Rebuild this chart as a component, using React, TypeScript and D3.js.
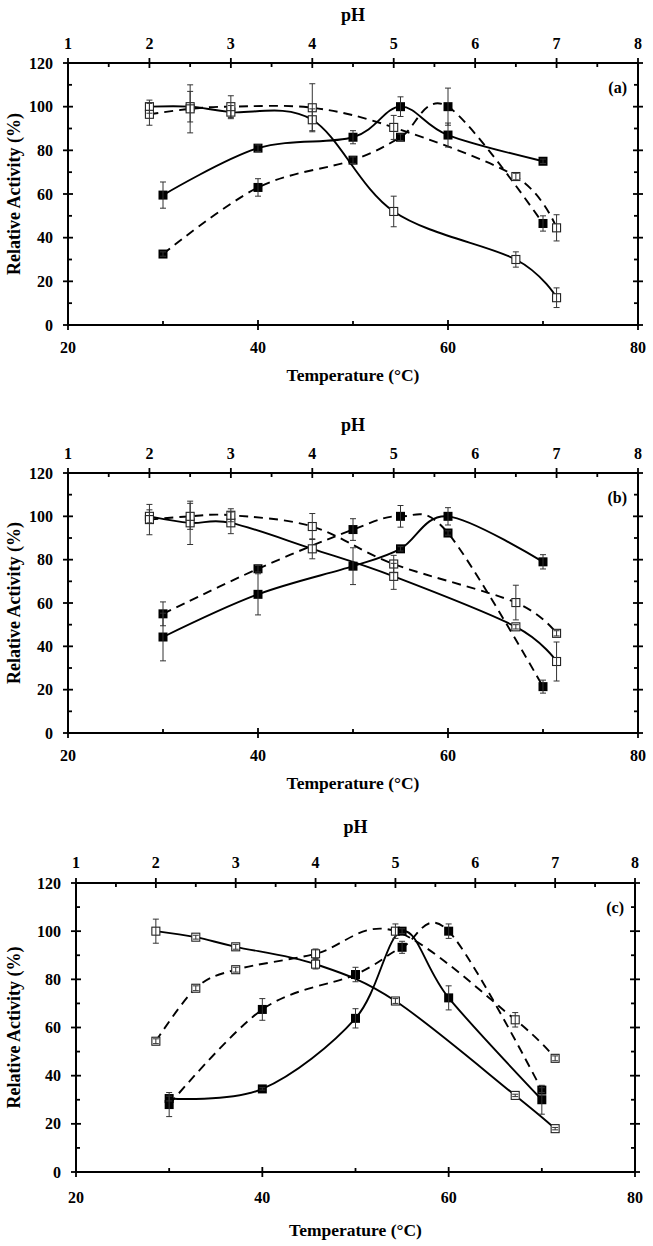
import React from 'react';
import * as d3 from 'd3';

// ---------- shared axis values ----------
const phValues = [2, 2.5, 3, 4, 5, 6.5, 7];
const tempValues = [30, 40, 50, 55, 60, 70];
const yTicks = [0, 20, 40, 60, 80, 100, 120];
const yMinorTicks = [10, 30, 50, 70, 90, 110];
const tempTicks = [20, 40, 60, 80];
const tempMinorTicks = [30, 50, 70];
const phTicks = [1, 2, 3, 4, 5, 6, 7, 8];
const phMinorTicks = [1.5, 2.5, 3.5, 4.5, 5.5, 6.5, 7.5];

// ---------- panel (a) ----------
const aPhSolid = [100, 100, 97.5, 94, 52, 30, 12.5];
const aPhSolidErr = [3, 7, 3, 5, 7, 3.5, 4.5];
const aPhDashed = [96.5, 99, 100, 99.5, 90.5, 68, 44.5];
const aPhDashedErr = [5, 11, 5, 11, 5.5, 1.5, 6];
const aTempSolid = [59.5, 81, 86, 100, 87, 75];
const aTempSolidErr = [6, 1.5, 3, 4.5, 5.5, 1];
const aTempDashed = [32.5, 63, 75.5, 86, 100, 46.5];
const aTempDashedErr = [1, 4, 1.5, 1.5, 8.5, 3.5];

// ---------- panel (b) ----------
const bPhSolid = [100, 97, 97, 85, 72.3, 49, 33];
const bPhSolidErr = [3, 10, 5, 4.6, 6, 1, 9];
const bPhDashed = [98.5, 100, 100.5, 95.3, 78, 60.2, 46];
const bPhDashedErr = [7, 6, 3, 6, 4, 8, 1.2];
const bTempSolid = [44.3, 64, 77, 85, 100, 79];
const bTempSolidErr = [11, 9.5, 8.5, 1, 4, 3.3];
const bTempDashed = [55, 75.8, 93.9, 100, 92.3, 21.4];
const bTempDashedErr = [5.5, 1.5, 5, 5, 1, 3];

// ---------- panel (c) ----------
const cPhSolid = [100, 97.5, 93.5, 86.3, 71, 31.8, 18];
const cPhSolidErr = [5, 0.8, 1, 2, 1, 0.5, 0.5];
const cPhDashed = [54.3, 76.3, 84, 90.6, 100, 63.2, 47.2];
const cPhDashedErr = [1, 1, 1, 2, 3, 3, 1];
const cTempSolid = [30.5, 34.5, 63.8, 100, 72.3, 30];
const cTempSolidErr = [1, 0.5, 4, 1, 5, 6];
const cTempDashed = [28, 67.5, 82, 93.3, 100, 34];
const cTempDashedErr = [5, 4.5, 3, 2.5, 3, 1];

const panelLabels = ['(a)', '(b)', '(c)'];

type Series = { kind: 'ph' | 'temp'; values: number[]; errors: number[]; dashed: boolean };

const panelSeries: Series[][] = [
  [
    { kind: 'ph', values: aPhSolid, errors: aPhSolidErr, dashed: false },
    { kind: 'ph', values: aPhDashed, errors: aPhDashedErr, dashed: true },
    { kind: 'temp', values: aTempSolid, errors: aTempSolidErr, dashed: false },
    { kind: 'temp', values: aTempDashed, errors: aTempDashedErr, dashed: true },
  ],
  [
    { kind: 'ph', values: bPhSolid, errors: bPhSolidErr, dashed: false },
    { kind: 'ph', values: bPhDashed, errors: bPhDashedErr, dashed: true },
    { kind: 'temp', values: bTempSolid, errors: bTempSolidErr, dashed: false },
    { kind: 'temp', values: bTempDashed, errors: bTempDashedErr, dashed: true },
  ],
  [
    { kind: 'ph', values: cPhSolid, errors: cPhSolidErr, dashed: false },
    { kind: 'ph', values: cPhDashed, errors: cPhDashedErr, dashed: true },
    { kind: 'temp', values: cTempSolid, errors: cTempSolidErr, dashed: false },
    { kind: 'temp', values: cTempDashed, errors: cTempDashedErr, dashed: true },
  ],
];

// layout
const layouts = [
  { x0: 68, x1: 638, yTop: 63, yBot: 325, phY: 21, topLblY: 49, botLblY: 353, tempY: 381 },
  { x0: 68, x1: 638, yTop: 473, yBot: 733, phY: 431, topLblY: 459, botLblY: 761, tempY: 789 },
  { x0: 76, x1: 635, yTop: 883, yBot: 1172, phY: 833, topLblY: 868, botLblY: 1203, tempY: 1236 },
];

const FONT = '"Liberation Serif", "Times New Roman", serif';

function Panel({ idx }: { idx: number }) {
  const L = layouts[idx];
  const x = d3.scaleLinear().domain([20, 80]).range([L.x0, L.x1]);
  const xp = d3.scaleLinear().domain([1, 8]).range([L.x0, L.x1]);
  const y = d3.scaleLinear().domain([0, 120]).range([L.yBot, L.yTop]);
  const line = d3
    .line<[number, number]>()
    .x((d) => d[0])
    .y((d) => d[1])
    .curve(d3.curveCardinal.tension(0));
  const series = panelSeries[idx];
  const pts = (s: Series) =>
    s.values.map((v, i) => {
      const px = s.kind === 'ph' ? xp(phValues[i]) : x(tempValues[i]);
      return { px, py: y(v), v, e: s.errors[i] };
    });
  const midY = (L.yTop + L.yBot) / 2;
  const midX = (L.x0 + L.x1) / 2;
  const axisW = 2;
  return (
    <g>
      {/* lines */}
      {series.map((s, si) => (
        <path
          key={'l' + si}
          d={line(pts(s).map((p) => [p.px, p.py] as [number, number])) || ''}
          fill="none"
          stroke="#000"
          strokeWidth={1.9}
          strokeDasharray={s.dashed ? '9,6' : undefined}
        />
      ))}
      {/* markers */}
      {series.map((s, si) =>
        pts(s).map((p, i) =>
          s.kind === 'temp' ? (
            <rect key={'m' + si + '-' + i} x={p.px - 4.5} y={p.py - 4.5} width={9} height={9} fill="#000" />
          ) : (
            <rect
              key={'m' + si + '-' + i}
              x={p.px - 4}
              y={p.py - 4}
              width={8}
              height={8}
              fill="#fff"
              stroke="#222"
              strokeWidth={1.1}
            />
          )
        )
      )}
      {/* error bars */}
      {series.map((s, si) =>
        pts(s).map((p, i) => {
          const t = y(p.v + p.e);
          const b = y(p.v - p.e);
          return (
            <g key={'e' + si + '-' + i} stroke="#333" strokeWidth={1}>
              <line x1={p.px} x2={p.px} y1={t} y2={b} />
              <line x1={p.px - 3} x2={p.px + 3} y1={t} y2={t} />
              <line x1={p.px - 3} x2={p.px + 3} y1={b} y2={b} />
            </g>
          );
        })
      )}
      {/* frame */}
      <g stroke="#000" strokeWidth={axisW}>
        <line x1={L.x0} x2={L.x1} y1={L.yTop} y2={L.yTop} />
        <line x1={L.x0} x2={L.x1} y1={L.yBot} y2={L.yBot} />
        <line x1={L.x0} x2={L.x0} y1={L.yTop} y2={L.yBot} />
        <line x1={L.x1} x2={L.x1} y1={L.yTop} y2={L.yBot} />
      </g>
      {/* ticks */}
      <g stroke="#000" strokeWidth={1.8}>
        {yTicks.map((t) => (
          <g key={'yt' + t}>
            <line x1={L.x0 - 5} x2={L.x0 + 5} y1={y(t)} y2={y(t)} />
            <line x1={L.x1 - 5} x2={L.x1 + 5} y1={y(t)} y2={y(t)} />
          </g>
        ))}
        {yMinorTicks.map((t) => (
          <g key={'ym' + t}>
            <line x1={L.x0} x2={L.x0 + 4} y1={y(t)} y2={y(t)} />
            <line x1={L.x1 - 4} x2={L.x1} y1={y(t)} y2={y(t)} />
          </g>
        ))}
        {tempTicks.map((t) => (
          <line key={'xt' + t} x1={x(t)} x2={x(t)} y1={L.yBot - 5} y2={L.yBot + 5} />
        ))}
        {tempMinorTicks.map((t) => (
          <line key={'xm' + t} x1={x(t)} x2={x(t)} y1={L.yBot - 4} y2={L.yBot} />
        ))}
        {phTicks.map((t) => (
          <line key={'pt' + t} x1={xp(t)} x2={xp(t)} y1={L.yTop - 5} y2={L.yTop + 5} />
        ))}
        {phMinorTicks.map((t) => (
          <line key={'pm' + t} x1={xp(t)} x2={xp(t)} y1={L.yTop} y2={L.yTop + 4} />
        ))}
      </g>
      {/* tick labels */}
      <g fontFamily={FONT} fontWeight="bold" fontSize={16} fill="#000">
        {yTicks.map((t) => (
          <text key={'yl' + t} x={L.x0 - 15} y={y(t) + 5.5} textAnchor="end">
            {t}
          </text>
        ))}
        {tempTicks.map((t) => (
          <text key={'xl' + t} x={x(t)} y={L.botLblY} textAnchor="middle">
            {t}
          </text>
        ))}
        {phTicks.map((t) => (
          <text key={'pl' + t} x={xp(t)} y={L.topLblY} textAnchor="middle">
            {t}
          </text>
        ))}
      </g>
      {/* titles */}
      <g fontFamily={FONT} fontWeight="bold" fill="#000">
        <text x={midX} y={L.phY} textAnchor="middle" fontSize={18}>
          pH
        </text>
        <text x={midX} y={L.tempY} textAnchor="middle" fontSize={17.5}>
          Temperature (°C)
        </text>
        <text transform={`translate(20,${midY}) rotate(-90)`} textAnchor="middle" fontSize={18}>
          Relative Activity (%)
        </text>
        <text x={L.x1 - 11} y={L.yTop + 30} textAnchor="end" fontSize={16}>
          {panelLabels[idx]}
        </text>
      </g>
    </g>
  );
}

export default function App() {
  return (
    <svg
      width={653}
      height={1246}
      viewBox="0 0 653 1246"
      style={{ position: 'absolute', left: 0, top: 0, background: '#fff' }}
    >
      <rect x={0} y={0} width={653} height={1246} fill="#fff" />
      {[0, 1, 2].map((i) => (
        <Panel key={i} idx={i} />
      ))}
    </svg>
  );
}
